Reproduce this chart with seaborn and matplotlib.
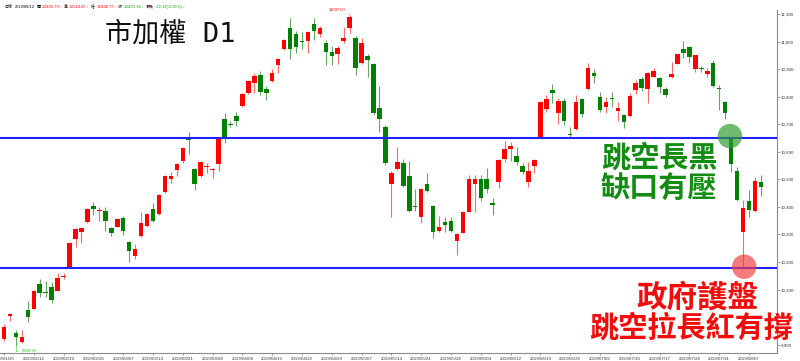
import numpy as np
import pandas as pd
import matplotlib
matplotlib.use("Agg")
import matplotlib.pyplot as plt
import seaborn as sns
from matplotlib.offsetbox import TextArea, HPacker, AnchoredOffsetbox
from matplotlib.ticker import FuncFormatter, FixedLocator

# ---------------- data ----------------
opens = [9921, 10004, 9942, 9911, 10025, 10030, 10120, 10093, 10109, 10095,
         10147, 10181, 10283, 10309, 10344, 10403, 10387, 10385, 10324, 10328,
         10361, 10272, 10222, 10295, 10331, 10393, 10374, 10455, 10500, 10533,
         10568, 10648, 10537, 10512, 10545, 10533, 10556, 10720, 10700, 10730,
         10766, 10812, 10849, 10878, 10828, 10858, 10914, 10972, 11048, 11026,
         11003, 11002, 11063, 11026, 10996, 10961, 10955, 11002, 11048, 11014,
         10923, 10948, 10918, 10758, 10689, 10483, 10538, 10560, 10512, 10405,
         10365, 10483, 10403, 10314, 10344, 10350, 10278, 10307, 10382, 10483,
         10501, 10500, 10412, 10489, 10573, 10611, 10586, 10549, 10492, 10550,
         10655, 10754, 10824, 10740, 10784, 10665, 10682, 10792, 10828, 10885,
         10798, 10764, 10795, 10749, 10734, 10730, 10824, 10863, 10827, 10873,
         10869, 10829, 10870, 10919, 10973, 10979, 10899, 10903, 10881, 10921,
         10832, 10780, 10649, 10531, 10308, 10423, 10386, 10491.79]
highs = [9975, 10016, 9954, 9954, 10060, 10098, 10138, 10131, 10129, 10161,
         10161, 10273, 10324, 10326, 10395, 10418, 10399, 10401, 10328, 10360,
         10367, 10275, 10266, 10383, 10378, 10413, 10446, 10516, 10526, 10558,
         10618, 10671, 10540, 10565, 10558, 10541, 10650, 10740, 10712, 10746,
         10812, 10862, 10885, 10893, 10839, 10902, 10939, 11009, 11084, 11038,
         11035, 11038, 11084, 11057, 11006, 10985, 10985, 11054, 11097, 11020,
         11012, 10954, 10922, 10840, 10697, 10530, 10616, 10574, 10567, 10464,
         10468, 10522, 10406, 10368, 10362, 10365, 10306, 10386, 10516, 10516,
         10516, 10540, 10431, 10573, 10639, 10637, 10616, 10561, 10564, 10574,
         10785, 10806, 10845, 10794, 10794, 10691, 10806, 10795, 10921, 10899,
         10816, 10800, 10816, 10782, 10737, 10812, 10861, 10873, 10891, 10905,
         10873, 10836, 10927, 10956, 11002, 10984, 10953, 10911, 10903, 10933,
         10842, 10783, 10652, 10546, 10425, 10462, 10510, 10514.05]
lows = [9914, 9987, 9894, 9907, 9984, 10028, 10072, 10072, 10053, 10094,
        10137, 10178, 10254, 10268, 10342, 10371, 10350, 10312, 10295, 10326,
        10299, 10201, 10210, 10292, 10328, 10345, 10370, 10452, 10486, 10513,
        10558, 10592, 10462, 10508, 10522, 10505, 10530, 10631, 10689, 10694,
        10763, 10810, 10812, 10806, 10788, 10855, 10885, 10968, 10936, 10960,
        10973, 10957, 11006, 11017, 10915, 10915, 10919, 10996, 11030, 10879,
        10920, 10873, 10735, 10673, 10552, 10362, 10535, 10474, 10383, 10385,
        10341, 10455, 10288, 10310, 10310, 10309, 10226, 10305, 10380, 10383,
        10423, 10450, 10371, 10468, 10564, 10568, 10552, 10518, 10473, 10522,
        10652, 10746, 10778, 10701, 10697, 10653, 10679, 10725, 10825, 10851,
        10746, 10740, 10764, 10713, 10685, 10727, 10810, 10822, 10776, 10870,
        10812, 10800, 10868, 10917, 10942, 10921, 10891, 10890, 10873, 10836,
        10752, 10718, 10528, 10423, 10183, 10365, 10383, 10440.77]
closes = [9965, 10012, 9927, 9927, 10000, 10094, 10089, 10087, 10062, 10143,
          10150, 10270, 10319, 10324, 10392, 10392, 10389, 10350, 10307, 10357,
          10313, 10241, 10249, 10343, 10373, 10350, 10442, 10513, 10513, 10555,
          10615, 10645, 10483, 10562, 10547, 10539, 10647, 10648, 10696, 10713,
          10809, 10858, 10875, 10818, 10815, 10885, 10936, 11006, 10972, 10979,
          11000, 11035, 11038, 11048, 10961, 10949, 10976, 11014, 11090, 10905,
          10996, 10933, 10740, 10718, 10561, 10522, 10564, 10477, 10385, 10401,
          10465, 10459, 10310, 10328, 10335, 10313, 10303, 10383, 10500, 10501,
          10431, 10464, 10409, 10570, 10610, 10621, 10564, 10528, 10532, 10570,
          10782, 10791, 10812, 10786, 10712, 10660, 10780, 10737, 10903, 10875,
          10752, 10782, 10793, 10758, 10709, 10804, 10851, 10830, 10885, 10893,
          10836, 10807, 10881, 10954, 10957, 10945, 10951, 10899, 10893, 10839,
          10829, 10740, 10555, 10425, 10395, 10389, 10494, 10472.36]
tick_labels = ["2019/01/25", "2019/02/12", "2019/02/19", "2019/02/26", "2019/03/07",
               "2019/03/14", "2019/03/21", "2019/03/28", "2019/04/08", "2019/04/15",
               "2019/04/22", "2019/04/29", "2019/05/07", "2019/05/14", "2019/05/21",
               "2019/05/28", "2019/06/04", "2019/06/12", "2019/06/19", "2019/06/26",
               "2019/07/03", "2019/07/10", "2019/07/17", "2019/07/24", "2019/07/31",
               "2019/08/07"]
y_ticks = [9900, 10000, 10100, 10200, 10300, 10400, 10500, 10600, 10700,
           10800, 10900, 11000, 11100]
resistance = 10650
support = 10178
marker_x = [121.8, 124.2]
marker_y = [10657, 10183]
marker_kind = ["壓力", "支撐"]
high_mark = (58, 11097.00)
low_mark = (2, 9893.96)

# ---------------- style ----------------
sns.set_theme(style="white")
plt.rcParams["font.family"] = ["Liberation Sans", "Noto Sans CJK TC", "DejaVu Sans"]

RED = "#ff0000"
GREEN = "#008000"
W, H = 800, 361

fig = plt.figure(figsize=(8, 3.61), dpi=100)
ax = fig.add_axes([0, 1 - 353 / H, 777 / W, (353 - 10) / H])

df = pd.DataFrame({"o": opens, "h": highs, "l": lows, "c": closes})
df["i"] = np.arange(len(df))
up = df["c"] >= df["o"]

# wicks
ax.vlines(df["i"][up], df["l"][up], df["h"][up], color="#f26d6d", lw=0.8, zorder=2)
ax.vlines(df["i"][~up], df["l"][~up], df["h"][~up], color="#62a862", lw=0.8, zorder=2)

# bodies
body_lo = np.minimum(df["o"], df["c"])
body_h = np.abs(df["c"] - df["o"])
min_h = 4.0
body_bottom = np.where(body_h < min_h, (df["o"] + df["c"]) / 2 - min_h / 2, body_lo)
body_h = np.maximum(body_h, min_h)
ax.bar(df["i"][up], body_h[up], bottom=body_bottom[up], width=0.76,
       color=RED, linewidth=0, zorder=3)
ax.bar(df["i"][~up], body_h[~up], bottom=body_bottom[~up], width=0.76,
       color=GREEN, linewidth=0, zorder=3)

# horizontal levels
ax.axhline(resistance, color="#2222ff", lw=1.5, zorder=4)
ax.axhline(support, color="#2222ff", lw=1.5, zorder=4)

# circles
circ = pd.DataFrame({"x": marker_x, "y": marker_y, "k": marker_kind})
sns.scatterplot(data=circ, x="x", y="y", hue="k",
                palette={"壓力": "#2d9b2d", "支撐": "#f03e3e"},
                s=310, alpha=0.68, linewidth=0, legend=False, ax=ax, zorder=5)

# extreme annotations
ax.annotate(f"{high_mark[1]:.2f}", xy=high_mark, xytext=(-3, 3.2),
            textcoords="offset points", ha="right", va="center",
            fontsize=3, color=RED, annotation_clip=False,
            arrowprops=dict(arrowstyle="-", color=RED, lw=0.4,
                            shrinkA=0, shrinkB=0))
ax.annotate(f"{low_mark[1]:.2f}", xy=low_mark, xytext=(4, -3),
            textcoords="offset points", ha="left", va="center",
            fontsize=3, color="#22cc22", annotation_clip=False,
            arrowprops=dict(arrowstyle="-", color="#22cc22", lw=0.4,
                            connectionstyle="angle,angleA=0,angleB=90",
                            shrinkA=0, shrinkB=0))

# axes limits / ticks
ax.set_xlim(-0.671, 129.7)
ax.set_ylim(9870, 11114.5)
ax.set_xlabel("")
ax.set_ylabel("")
ax.xaxis.set_major_locator(FixedLocator(np.arange(0, len(tick_labels) * 5, 5)))
ax.set_xticklabels(tick_labels)
ax.yaxis.tick_right()
ax.yaxis.set_major_locator(FixedLocator(y_ticks))
ax.yaxis.set_major_formatter(FuncFormatter(lambda v, p: f"{v:,.0f}"))
ax.tick_params(axis="y", right=True, left=False, direction="out", length=2,
               width=0.5, color="#777777", labelsize=3.2, pad=0.8,
               labelcolor="#333333")
ax.tick_params(axis="x", bottom=True, length=1.5, width=0.5, color="#777777",
               labelsize=3.2, pad=1.2, labelcolor="#333333")
for s in ["left", "top"]:
    ax.spines[s].set_visible(False)
for s in ["right", "bottom"]:
    ax.spines[s].set_color("#8a8a8a")
    ax.spines[s].set_linewidth(0.8)
ax.grid(False)

# header line
pieces = [("日線", "#000000"), ("2019/08/12", "#000000"), ("開", "#000000"),
          ("10491.79 ↑", RED), ("高", "#000000"), ("10514.05 ↑", RED),
          ("低", "#000000"), ("10440.77 ↑", RED), ("收", "#000000"),
          ("10472.36 ↓", "#009900"), ("漲跌", "#000000"),
          ("-22.13(-0.21%) ↓", "#009900")]
areas = [TextArea(t, textprops=dict(color=c, fontsize=2.9)) for t, c in pieces]
pack = HPacker(children=areas, align="baseline", pad=0, sep=1.3)
anch = AnchoredOffsetbox(loc="upper left", child=pack, pad=0, borderpad=0.3,
                         frameon=False, bbox_to_anchor=(0, 1),
                         bbox_transform=fig.transFigure)
fig.add_artist(anch)

# title
fig.text(105 / W, 1 - 35 / H, "市加權 D1", fontsize=19.5, color="#111111",
         family=["DejaVu Sans Mono", "Noto Sans CJK TC"], ha="left", va="center")

# annotations
cjk = ["Noto Sans CJK TC", "DejaVu Sans"]
fig.text(659 / W, 1 - 158 / H, "跳空長黑", fontsize=21, weight="bold",
         color="#148c14", family=cjk, ha="center", va="center")
fig.text(659 / W, 1 - 189 / H, "缺口有壓", fontsize=21, weight="bold",
         color="#148c14", family=cjk, ha="center", va="center")
fig.text(697 / W, 1 - 298 / H, "政府護盤", fontsize=22, weight="bold",
         color="#f20d0d", family=cjk, ha="center", va="center")
fig.text(691 / W, 1 - 328 / H, "跳空拉長紅有撐", fontsize=21, weight="bold",
         color="#f20d0d", family=cjk, ha="center", va="center")

fig.savefig("out.png", dpi=100, facecolor="white")
